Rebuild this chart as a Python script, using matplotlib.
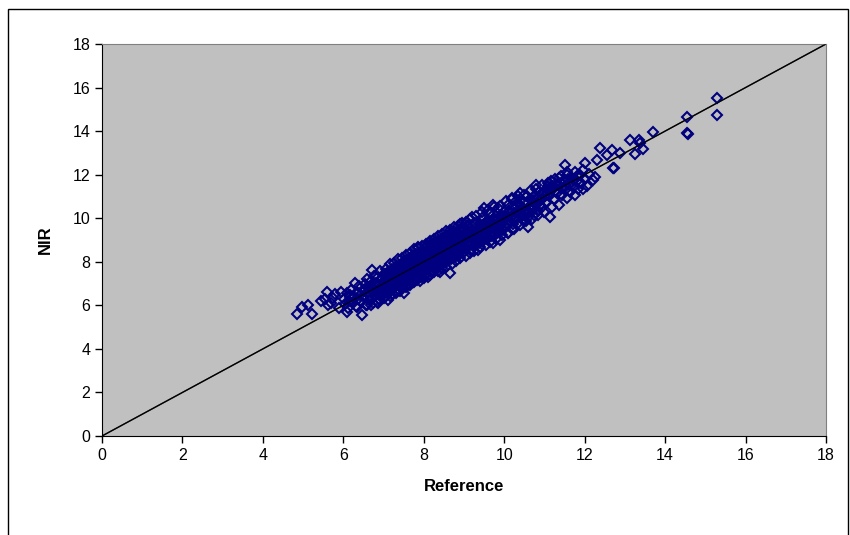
import matplotlib
matplotlib.use("Agg")
import matplotlib.pyplot as plt
from matplotlib.patches import Rectangle

# Reference vs NIR predictions (units as on the axes)
low_tail = [
    (4.86, 5.60), (4.98, 5.94), (5.13, 6.01), (5.23, 5.60), (5.44, 6.21),
    (5.59, 6.63), (5.63, 6.01), (5.75, 6.32), (5.88, 5.86), (5.95, 6.60),
    (6.08, 5.71), (6.17, 6.40), (6.29, 7.01), (6.33, 5.94), (6.46, 5.56),
    (6.58, 6.01), (6.71, 7.62), (6.83, 6.17), (5.70, 6.10), (5.80, 6.50),
    (5.55, 6.30),
]

core_6_7 = [
    (6.02, 6.31), (6.05, 6.05), (6.08, 6.58), (6.11, 5.88), (6.14, 6.22),
    (6.17, 6.46), (6.20, 6.71), (6.23, 6.12), (6.27, 6.38), (6.31, 5.97),
    (6.33, 6.60), (6.36, 6.27), (6.39, 6.88), (6.42, 6.47), (6.45, 6.15),
    (6.48, 6.69), (6.51, 6.36), (6.53, 6.98), (6.56, 6.03), (6.58, 6.57),
    (6.61, 6.80), (6.64, 6.25), (6.66, 6.47), (6.69, 7.10), (6.71, 6.66),
    (6.74, 6.12), (6.76, 6.88), (6.79, 6.41), (6.81, 7.02), (6.84, 6.59),
    (6.86, 7.28), (6.88, 6.28), (6.91, 6.79), (6.93, 7.18), (6.95, 6.52),
    (6.98, 6.95), (7.00, 7.42),
]

core_7_8 = [
    (7.02, 6.68), (7.03, 7.05), (7.05, 6.42), (7.07, 7.27), (7.08, 6.88),
    (7.10, 7.55), (7.12, 6.58), (7.13, 7.12), (7.15, 6.95), (7.17, 7.38),
    (7.18, 6.76), (7.20, 7.68), (7.22, 7.00), (7.23, 6.53), (7.25, 7.25),
    (7.27, 7.48), (7.28, 6.86), (7.30, 7.78), (7.32, 7.10), (7.33, 6.68),
    (7.35, 7.35), (7.37, 7.58), (7.38, 6.97), (7.40, 7.86), (7.42, 7.20),
    (7.43, 6.79), (7.45, 7.45), (7.47, 7.68), (7.48, 7.05), (7.50, 8.02),
    (7.52, 7.30), (7.53, 6.88), (7.55, 7.55), (7.57, 7.78), (7.58, 7.14),
    (7.60, 8.12), (7.62, 7.42), (7.63, 6.98), (7.65, 7.64), (7.67, 7.88),
    (7.68, 7.25), (7.70, 8.26), (7.72, 7.52), (7.73, 7.08), (7.75, 7.75),
    (7.77, 7.98), (7.78, 7.36), (7.80, 8.36), (7.82, 7.62), (7.83, 7.18),
    (7.85, 7.86), (7.87, 8.08), (7.88, 7.45), (7.90, 8.46), (7.92, 7.72),
    (7.93, 7.28), (7.95, 7.95), (7.97, 8.20), (7.98, 7.55),
]

core_8_9 = [
    (8.00, 8.60), (8.02, 7.82), (8.03, 8.30), (8.05, 7.42), (8.07, 8.05),
    (8.08, 8.72), (8.10, 7.65), (8.12, 8.40), (8.13, 7.95), (8.15, 8.18),
    (8.17, 8.82), (8.18, 7.55), (8.20, 8.50), (8.22, 7.78), (8.23, 8.28),
    (8.25, 8.05), (8.27, 8.90), (8.28, 7.68), (8.30, 8.60), (8.32, 7.90),
    (8.33, 8.38), (8.35, 8.15), (8.37, 9.00), (8.38, 7.80), (8.40, 8.70),
    (8.42, 8.00), (8.43, 8.48), (8.45, 8.25), (8.47, 9.10), (8.48, 7.92),
    (8.50, 8.80), (8.52, 8.10), (8.53, 8.58), (8.55, 8.35), (8.57, 9.22),
    (8.58, 8.02), (8.60, 8.90), (8.62, 8.20), (8.63, 8.68), (8.65, 8.45),
    (8.67, 9.30), (8.68, 8.12), (8.70, 9.00), (8.72, 8.30), (8.73, 8.78),
    (8.75, 8.55), (8.77, 9.38), (8.78, 8.22), (8.80, 9.10), (8.82, 8.42),
    (8.83, 8.88), (8.85, 8.65), (8.87, 9.48), (8.88, 8.32), (8.90, 9.20),
    (8.92, 8.52), (8.93, 8.98), (8.95, 8.75), (8.97, 9.58), (8.98, 8.42),
]

core_9_10 = [
    (9.02, 9.30), (9.05, 8.62), (9.07, 9.05), (9.10, 9.62), (9.12, 8.80),
    (9.15, 9.22), (9.18, 8.55), (9.20, 9.45), (9.22, 9.00), (9.25, 9.80),
    (9.28, 8.75), (9.30, 9.35), (9.32, 9.58), (9.35, 9.10), (9.38, 8.85),
    (9.40, 9.72), (9.42, 9.25), (9.45, 10.02), (9.48, 8.95), (9.50, 9.50),
    (9.52, 9.78), (9.55, 9.30), (9.58, 9.05), (9.60, 9.90), (9.62, 9.45),
    (9.65, 10.20), (9.68, 9.20), (9.70, 9.68), (9.72, 9.95), (9.75, 9.50),
    (9.78, 9.28), (9.80, 10.10), (9.82, 9.62), (9.85, 10.45), (9.88, 9.38),
    (9.90, 9.85), (9.92, 10.15), (9.95, 9.72), (9.98, 9.48),
]

core_10_12 = [
    (10.00, 10.30), (10.03, 9.62), (10.06, 10.05), (10.10, 10.60), (10.13, 9.85),
    (10.16, 10.25), (10.20, 9.50), (10.23, 10.50), (10.26, 10.00), (10.30, 10.80),
    (10.33, 9.75), (10.36, 10.35), (10.40, 10.62), (10.43, 10.10), (10.46, 9.90),
    (10.50, 10.75), (10.53, 10.30), (10.56, 11.00), (10.60, 10.05), (10.63, 10.55),
    (10.66, 10.85), (10.70, 10.40), (10.73, 10.15), (10.76, 11.05), (10.80, 10.62),
    (10.83, 10.35), (10.86, 11.20), (10.90, 10.85), (10.93, 10.50), (10.96, 11.10),
    (11.00, 11.25), (11.04, 10.75), (11.08, 11.50), (11.12, 11.00), (11.16, 11.70),
    (11.20, 11.30), (11.24, 10.90), (11.28, 11.55), (11.32, 11.15), (11.36, 11.85),
    (11.40, 11.40), (11.44, 11.05), (11.48, 11.70), (11.52, 11.30), (11.56, 12.00),
    (11.60, 11.55), (11.64, 11.20), (11.68, 11.85), (11.72, 11.45), (11.76, 12.10),
    (11.80, 11.70), (11.84, 11.35), (11.88, 12.00), (11.92, 11.60), (11.96, 12.20),
    (12.00, 11.80), (12.05, 11.50), (12.10, 12.05),
]

core_fill = [
    (6.55, 6.75), (6.62, 6.62), (6.68, 6.90), (6.72, 6.35), (6.78, 6.72),
    (6.85, 6.95), (6.90, 6.45), (6.96, 7.25), (7.04, 7.45), (7.06, 6.78),
    (7.11, 7.30), (7.14, 6.62), (7.19, 7.15), (7.21, 7.52), (7.26, 6.92),
    (7.29, 7.32), (7.31, 7.62), (7.34, 7.02), (7.36, 7.72), (7.39, 7.25),
    (7.41, 7.52), (7.44, 7.12), (7.46, 7.90), (7.49, 7.38), (7.51, 7.65),
    (7.54, 7.22), (7.56, 7.95), (7.59, 7.48), (7.61, 7.72), (7.64, 7.32),
    (7.66, 8.05), (7.69, 7.58), (7.71, 7.85), (7.74, 7.42), (7.76, 8.15),
    (7.79, 7.68), (7.81, 7.95), (7.84, 7.52), (7.86, 8.25), (7.89, 7.78),
    (7.91, 8.05), (7.94, 7.62), (7.96, 8.35), (7.99, 7.88), (8.01, 8.15),
    (8.04, 7.72), (8.06, 8.50), (8.09, 7.98), (8.11, 8.28), (8.14, 7.82),
    (8.16, 8.60), (8.19, 8.08), (8.21, 8.38), (8.24, 7.92), (8.26, 8.70),
    (8.29, 8.18), (8.31, 8.48), (8.34, 8.02), (8.36, 8.80), (8.39, 8.28),
    (8.41, 8.58), (8.44, 8.12), (8.46, 8.90), (8.49, 8.38), (8.51, 8.68),
    (8.54, 8.22), (8.56, 9.00), (8.59, 8.48), (8.61, 8.78), (8.64, 8.32),
    (8.66, 9.10), (8.69, 8.58), (8.71, 8.88), (8.74, 8.42), (8.76, 9.20),
    (8.79, 8.68), (8.81, 8.98), (8.84, 8.52), (8.86, 9.30), (8.89, 8.78),
    (8.91, 9.08), (8.94, 8.62), (8.96, 9.40), (8.99, 8.88), (9.04, 9.15),
    (9.09, 8.90), (9.13, 9.40), (9.17, 9.10), (9.21, 9.65), (9.24, 9.20),
    (9.27, 8.98), (9.31, 9.75), (9.34, 9.45), (9.37, 9.25), (9.41, 9.05),
    (9.44, 9.55), (9.47, 9.35), (9.51, 9.15), (9.54, 9.65), (9.57, 9.45),
    (9.61, 9.25), (9.64, 9.75), (9.67, 9.55), (9.71, 9.35), (9.74, 9.85),
    (9.77, 9.65), (9.81, 9.45), (9.84, 9.95), (9.87, 9.75), (9.91, 9.55),
    (9.94, 10.05), (9.97, 9.85), (10.02, 10.10), (10.08, 9.80), (10.12, 10.35),
    (10.18, 10.05), (10.22, 9.75), (10.28, 10.25), (10.32, 10.55), (10.38, 10.15),
    (10.45, 10.45), (10.52, 10.10), (10.58, 10.70), (10.62, 10.30), (10.68, 10.60),
    (10.75, 10.85), (10.82, 10.90), (10.88, 10.60), (10.95, 10.90), (11.02, 11.00),
    (11.10, 11.25), (11.18, 11.50), (11.26, 11.25), (11.34, 11.55), (11.42, 11.60),
    (11.50, 11.50), (11.58, 11.80), (11.66, 11.60), (11.74, 11.75), (11.82, 11.95),
]

# outer rim of the band, above and below the 1:1 line
band_upper = [
    (6.60, 7.22), (6.75, 7.33), (6.90, 7.57), (7.05, 7.68), (7.15, 7.88),
    (7.25, 7.93), (7.35, 8.12), (7.45, 8.18), (7.55, 8.33), (7.65, 8.42),
    (7.75, 8.57), (7.85, 8.62), (7.95, 8.74), (8.05, 8.83), (8.15, 8.97),
    (8.25, 9.03), (8.35, 9.18), (8.45, 9.27), (8.55, 9.42), (8.65, 9.48),
    (8.75, 9.58), (8.85, 9.63), (8.95, 9.78), (9.05, 9.83), (9.15, 9.97),
    (9.30, 10.08), (9.45, 10.27), (9.60, 10.38), (9.75, 10.52), (9.90, 10.58),
    (10.05, 10.77), (10.20, 10.88), (10.35, 11.02), (10.50, 11.08), (10.65, 11.27),
    (10.80, 11.33), (10.95, 11.52), (11.10, 11.63), (11.25, 11.82), (11.40, 11.93),
    (11.55, 12.12),
]

band_lower = [
    (6.70, 6.02), (6.85, 6.13), (7.00, 6.32), (7.15, 6.43), (7.30, 6.57),
    (7.40, 6.68), (7.55, 6.82), (7.65, 6.93), (7.75, 7.07), (7.90, 7.13),
    (8.00, 7.27), (8.15, 7.38), (8.25, 7.52), (8.35, 7.58), (8.45, 7.72),
    (8.55, 7.78), (8.70, 7.92), (8.80, 8.03), (8.90, 8.17), (9.05, 8.28),
    (9.15, 8.42), (9.25, 8.48), (9.40, 8.67), (9.55, 8.78), (9.65, 8.92),
    (9.80, 9.03), (9.95, 9.22), (10.10, 9.33), (10.25, 9.52), (10.40, 9.68),
    (10.55, 9.87), (10.70, 9.98), (10.85, 10.17), (11.00, 10.28), (11.20, 10.52),
    (11.35, 10.63), (11.55, 10.92), (11.75, 11.08), (11.95, 11.32),
]

edges = [
    (7.86, 8.68), (8.40, 7.55), (8.65, 7.48), (9.72, 8.86), (9.90, 8.98),
    (10.60, 9.60), (9.73, 10.60), (10.40, 11.15), (9.50, 10.45), (9.20, 10.05),
    (8.90, 9.75), (10.20, 10.95), (7.50, 6.55), (7.10, 6.25), (8.10, 7.30),
    (9.35, 8.55), (10.10, 9.30),
]

high_tail = [
    (11.14, 10.07), (10.80, 11.52), (11.51, 12.44), (12.71, 12.30), (12.20, 11.75),
    (12.25, 11.90), (12.00, 12.53), (12.31, 12.67), (12.56, 12.90), (12.73, 12.30),
    (12.38, 13.22), (12.68, 13.13), (12.88, 12.99), (13.25, 12.95), (13.45, 13.18),
    (13.38, 13.45), (13.13, 13.59), (13.35, 13.59), (13.70, 13.96), (14.55, 14.65),
    (14.55, 13.91), (14.57, 13.85), (15.29, 15.52), (15.29, 14.74),
]

ticks = [0, 2, 4, 6, 8, 10, 12, 14, 16, 18]

points = (low_tail + core_6_7 + core_7_8 + core_8_9 + core_9_10 + core_10_12
          + core_fill + band_upper + band_lower + edges + high_tail)
ref = [p[0] for p in points]
nir = [p[1] for p in points]

plt.rcParams['font.family'] = ['Liberation Sans', 'DejaVu Sans']

fig = plt.figure(figsize=(8.5, 5.35), dpi=100)
# Excel chart-area border
fig.patches.append(Rectangle((8 / 850, -0.05), 840 / 850, 1.05 - 9 / 535,
                             transform=fig.transFigure, fill=False,
                             edgecolor='black', linewidth=1.0))

ax = fig.add_axes([102 / 850, 1 - 436 / 535, 724 / 850, 392 / 535])
ax.set_facecolor('#C0C0C0')

ax.plot([0, 18], [0, 18], color='black', linewidth=0.9, zorder=2)
ax.plot(ref, nir, linestyle='none', marker='D', markersize=4.8,
        markerfacecolor='none', markeredgecolor='#000080',
        markeredgewidth=1.5, zorder=3)
# the fit line shows through the dense cloud in the reference
ax.plot([0, 18], [0, 18], color='black', linewidth=1.0, alpha=0.7, zorder=4)

ax.set_xlim(0, 18)
ax.set_ylim(0, 18)
ax.set_xticks(ticks)
ax.set_yticks(ticks)
ax.tick_params(direction='out', length=5, width=1, colors='black', labelsize=11.5)
ax.spines['left'].set_color('black')
ax.spines['bottom'].set_color('black')
ax.spines['top'].set_color('#808080')
ax.spines['right'].set_color('#808080')

ax.set_xlabel('Reference', fontsize=12, fontweight='bold', labelpad=12)
ax.set_ylabel('NIR', fontsize=12, fontweight='bold', labelpad=14)

fig.savefig('out.png', dpi=100)
